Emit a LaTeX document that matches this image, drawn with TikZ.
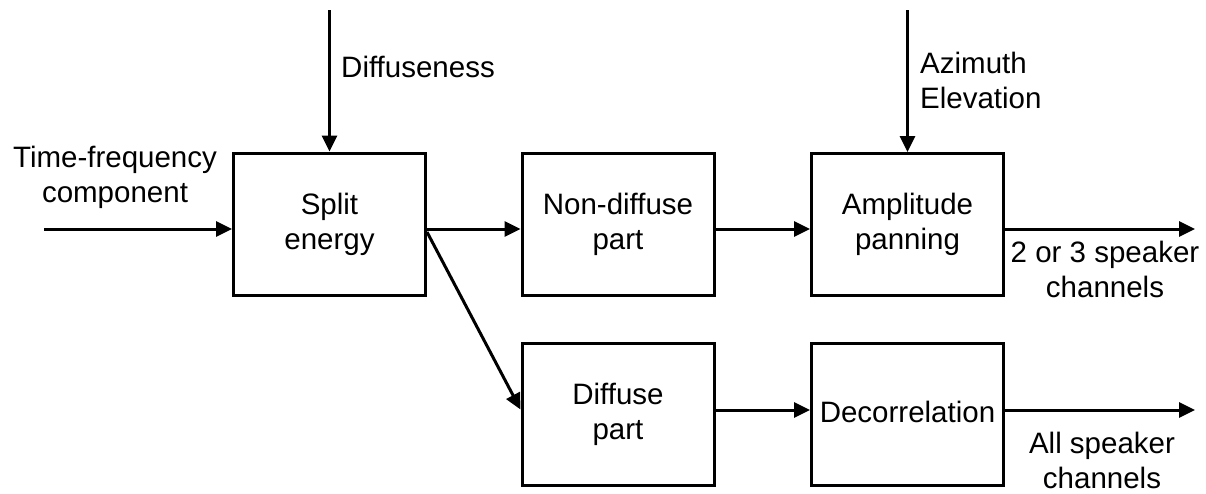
\documentclass[tikz,border=0pt]{standalone}
\usepackage{fontspec}
\setmainfont{Liberation Sans}
\usepackage{tikz}
\usetikzlibrary{arrows.meta,positioning}
\tikzset{
  blk/.style={rectangle,draw=black,line width=3pt,minimum width=192pt,minimum height=142pt,inner sep=2pt,align=center,font=\fontsize{29.5}{35}\selectfont},
  sig/.style={line width=3pt,black,-{Triangle[length=16pt,width=15pt]}},
  lab/.style={font=\fontsize{29.5}{35}\selectfont,inner sep=0pt},
}
\begin{document}
\begin{tikzpicture}[x=1pt,y=-1pt]
  \useasboundingbox (0,0) rectangle (1206,493);

  % blocks
  \node[blk] (split) at (329.5,224) {Split\\energy};
  \node[blk] (nondiff) at (618,224.5) {Non-diffuse\\part};
  \node[blk] (amp) at (907.5,224.5) {Amplitude\\panning};
  \node[blk] (diff) at (618,414.5) {Diffuse\\part};
  \node[blk] (decor) at (907.5,414.5) {\raisebox{5pt}{Decorrelation}};

  % free ends
  \coordinate (in) at (44,229);
  \coordinate (dtop) at (329.5,10);
  \coordinate (atop) at (907.5,10);
  \coordinate (out1) at (1195,229);
  \coordinate (out2) at (1195,410);

  % connectors
  \draw[sig] (in) -- ([yshift=-5pt]split.west);
  \draw[sig] (dtop) -- (split.north);
  \draw[sig] (atop) -- (amp.north);
  \draw[sig] ([yshift=-5pt]split.east) -- ([yshift=-4.5pt]nondiff.west);
  \draw[sig] ([yshift=-8pt]split.east) -- ([yshift=5pt]diff.west);
  \draw[sig] ([yshift=-4.5pt]nondiff.east) -- ([yshift=-4.5pt]amp.west);
  \draw[sig] ([yshift=-4.5pt]amp.east) -- (out1);
  \draw[sig] ([yshift=4.5pt]diff.east) -- ([yshift=4.5pt]decor.west);
  \draw[sig] ([yshift=4.5pt]decor.east) -- (out2);

  % labels
  \node[lab,align=center] (tf) at (115,177) {Time-frequency\\component};
  \node[lab,anchor=west] (dlab) at (341,67) {Diffuseness};
  \node[lab,anchor=west,align=left] (aelab) at (920,80) {Azimuth\\Elevation};
  \node[lab,align=center] (o1lab) at (1105,269) {2 or 3 speaker\\channels};
  \node[lab,align=center] (o2lab) at (1102,460) {All speaker\\channels};
\end{tikzpicture}
\end{document}
